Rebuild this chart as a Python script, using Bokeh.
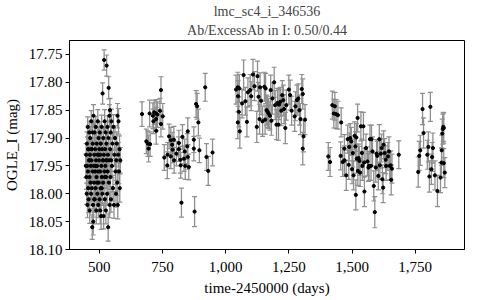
from bokeh.plotting import figure
from bokeh.models import (Range1d, Whisker, ColumnDataSource, FixedTicker,
                          NumeralTickFormatter, PrintfTickFormatter, Title, TeeHead)
from bokeh.embed import file_html
from bokeh.resources import INLINE

title_line1 = "lmc_sc4_i_346536"
title_line2 = "Ab/ExcessAb in I: 0.50/0.44"
x_label = "time-2450000 (days)"
y_label = "OGLE_I (mag)"
x_ticks = [500, 750, 1000, 1250, 1500, 1750]
y_ticks = [17.75, 17.80, 17.85, 17.90, 17.95, 18.00, 18.05, 18.10]

# [time, magnitude, error]
season1 = [
    [448,17.93,.020],[449,17.97,.022],[450,18.00,.019],[451,17.91,.021],[452,17.95,.020],
    [453,18.02,.023],[454,17.88,.018],[455,17.96,.022],[456,17.99,.020],[457,17.92,.019],
    [458,18.01,.024],[459,17.94,.021],[460,17.89,.020],[461,17.97,.022],[462,18.03,.023],
    [463,17.93,.019],[464,17.90,.021],[465,17.98,.020],[466,17.95,.022],[467,18.00,.021],
    [468,17.87,.019],[469,17.94,.020],[470,17.99,.023],[471,17.92,.021],[472,18.06,.022],
    [473,17.96,.020],[474,17.91,.019],[475,18.02,.022],[476,18.05,.024],[477,17.86,.020],
    [478,17.95,.021],[479,17.98,.022],[480,17.93,.020],[481,17.89,.019],[482,18.01,.023],
    [483,17.96,.021],[484,17.92,.020],[485,17.99,.022],[486,17.88,.019],[487,17.94,.021],
    [488,18.03,.024],[489,17.97,.020],[490,17.91,.021],[491,17.95,.022],[492,18.00,.020],
    [493,17.93,.019],[494,17.87,.021],[495,17.96,.022],[496,18.02,.023],[497,17.90,.020],
    [498,17.98,.021],[499,17.94,.020],[500,17.92,.022],[501,18.01,.021],[502,17.89,.019],
    [503,17.96,.022],[504,17.93,.020],[505,17.99,.023],[506,17.91,.021],[507,18.04,.024],
    [508,17.95,.020],[509,17.88,.021],[510,17.97,.022],[511,17.92,.020],[512,18.00,.021],
    [513,17.82,.019],[514,17.94,.022],[515,17.98,.020],[516,17.90,.021],[517,18.04,.023],
    [518,17.93,.020],[519,17.76,.018],[520,17.96,.022],[521,17.87,.021],[522,18.01,.020],
    [523,17.92,.022],[524,17.95,.021],[525,17.89,.020],[526,18.03,.024],[527,17.97,.021],
    [528,17.91,.020],[529,17.77,.019],[530,17.94,.022],[531,18.00,.021],[532,17.88,.020],
    [533,17.96,.022],[534,17.93,.021],[535,18.06,.025],[536,17.90,.020],[537,17.81,.020],
    [538,17.98,.022],[539,17.94,.021],[540,17.86,.020],[541,18.02,.023],[542,17.85,.021],
    [543,17.92,.020],[544,17.97,.022],[545,17.89,.021],[546,18.01,.023],[547,17.94,.020],
    [548,17.87,.022],[550,17.95,.021],[552,17.91,.020],[554,17.99,.023],[556,17.88,.022],
    [558,18.02,.024],[560,17.93,.021],[562,17.90,.022],[564,17.96,.023],[566,18.00,.024],
    [567,17.94,.022],[569,17.91,.021],[571,17.98,.023],[572,17.86,.022],[573,18.02,.025],
    [575,17.93,.022],[576,17.87,.023],[578,17.96,.022],[580,17.92,.024],[581,17.99,.025],
    [583,17.94,.023],
    [447,17.95,.021],[455.5,17.92,.022],[461.5,17.94,.020],[467.5,17.92,.021],[473.5,17.89,.022],
    [479.5,18.01,.023],[485.5,17.95,.021],[491.5,17.98,.020],[497.5,17.93,.021],[503.5,18.03,.024],
    [509.5,17.99,.022],[515.5,17.94,.021],[521.5,17.97,.020],[527.5,17.94,.021],
]

season2 = [
    [669,17.857,.022],[699,17.856,.024],[712,17.860,.023],[717,17.854,.022],[725,17.856,.025],
    [730,17.858,.023],[740,17.851,.022],[744,17.814,.024],[751,17.861,.023],[714,17.870,.022],
    [725,17.866,.021],[744,17.875,.023],[725,17.887,.024],[686,17.906,.022],[692,17.910,.023],
    [701,17.911,.022],[695,17.919,.024],[757,17.935,.023],[770,17.930,.022],[769,17.949,.024],
    [776,17.897,.022],[783,17.904,.023],[788,17.912,.022],[795,17.903,.024],[790,17.921,.023],
    [783,17.933,.022],[796,17.940,.023],[805,17.928,.022],[815,17.909,.023],[814,17.920,.022],
    [821,17.939,.024],[822,17.949,.023],[829,17.898,.022],[835,17.937,.023],[840,17.950,.024],
    [838,17.924,.022],[848,17.915,.023],[850,17.888,.024],[854,17.952,.023],[850,17.934,.022],
    [825,18.016,.026],[877,18.032,.027],[874,17.903,.023],[874,17.919,.022],[883,17.839,.024],
    [887,17.843,.023],[892,17.872,.024],[896,17.922,.022],[919,17.809,.025],[924,17.934,.024],
    [931,17.959,.026],[948,17.926,.024],
]

season3 = [
    [1041,17.813,.026],[1048,17.809,.027],[1054,17.811,.025],[1049,17.825,.028],[1052,17.853,.027],
    [1048,17.872,.029],[1056,17.888,.030],[1065,17.838,.026],[1071,17.787,.027],[1078,17.834,.025],
    [1084,17.871,.027],[1088,17.818,.026],[1097,17.814,.028],[1101,17.825,.026],[1108,17.786,.027],
    [1114,17.807,.026],[1123,17.880,.028],[1126,17.789,.027],[1130,17.826,.026],[1134,17.866,.027],
    [1136,17.809,.026],[1140,17.833,.025],[1146,17.870,.027],[1153,17.808,.026],[1158,17.811,.027],
    [1156,17.867,.026],[1162,17.850,.027],[1166,17.853,.028],[1170,17.856,.027],[1175,17.860,.026],
    [1178,17.814,.027],[1181,17.869,.026],[1185,17.829,.028],[1192,17.800,.027],[1196,17.841,.026],
    [1201,17.876,.027],[1205,17.837,.026],[1209,17.876,.028],[1211,17.840,.027],[1216,17.835,.026],
    [1220,17.851,.027],[1224,17.823,.026],[1228,17.832,.027],[1231,17.848,.026],[1236,17.882,.028],
    [1240,17.841,.027],[1250,17.813,.026],[1255,17.823,.027],[1261,17.851,.026],[1273,17.861,.027],
    [1276,17.843,.026],[1282,17.832,.027],[1287,17.829,.026],[1292,17.850,.027],[1296,17.866,.028],
    [1301,17.812,.026],[1305,17.821,.027],[1308,17.897,.028],[1305,17.919,.029],[1314,17.867,.027],
]

season4 = [
    [1406,17.933,.025],[1413,17.943,.026],[1422,17.841,.025],[1428,17.856,.026],[1432,17.843,.025],
    [1437,17.857,.026],[1444,17.859,.025],[1457,17.872,.026],[1455,17.932,.025],[1463,17.943,.026],
    [1470,17.919,.025],[1470,17.940,.026],[1477,17.967,.027],[1483,17.902,.025],[1487,17.948,.026],
    [1489,17.916,.025],[1493,17.900,.026],[1497,17.906,.025],[1500,17.956,.026],[1503,17.927,.025],
    [1506,17.967,.026],[1510,17.896,.025],[1513,17.915,.026],[1515,18.002,.027],[1517,17.899,.025],
    [1519,17.937,.026],[1522,17.864,.025],[1523,17.959,.026],[1526,17.936,.025],[1529,17.941,.026],
    [1532,17.962,.025],[1535,17.879,.026],[1539,17.927,.025],[1541,17.950,.026],[1545,17.879,.025],
    [1548,17.944,.026],[1549,17.996,.027],[1555,17.918,.025],[1561,17.942,.026],[1565,17.953,.025],
    [1567,17.950,.026],[1571,17.902,.025],[1575,17.950,.026],[1577,17.902,.025],[1581,17.924,.026],
    [1586,17.986,.027],[1590,18.033,.028],[1594,17.953,.026],[1597,17.928,.025],[1600,17.932,.026],
    [1604,17.968,.025],[1608,17.902,.026],[1610,17.949,.025],[1614,17.928,.026],[1617,17.918,.025],
    [1620,17.974,.026],[1623,17.989,.027],[1625,17.912,.025],[1629,17.927,.026],[1633,17.939,.025],
    [1635,17.950,.026],[1642,17.933,.025],[1646,17.924,.026],[1649,17.950,.025],[1653,17.949,.026],
    [1655,17.975,.027],[1658,17.955,.026],[1685,17.930,.025],
]

season5 = [
    [1762,17.961,.027],[1766,17.932,.026],[1770,17.922,.027],[1779,17.848,.028],[1783,17.891,.027],
    [1798,17.930,.026],[1802,17.916,.027],[1806,17.969,.028],[1810,17.844,.026],[1814,17.956,.027],
    [1817,17.934,.026],[1820,17.918,.027],[1828,17.967,.026],[1838,17.995,.028],[1850,17.971,.027],
    [1854,17.944,.026],[1855,17.922,.027],[1857,17.892,.026],[1859,17.884,.027],[1861,17.880,.026],
    [1863,17.882,.027],[1863,17.945,.026],[1867,17.962,.027],
]

rows = season1 + season2 + season3 + season4 + season5
t = [r[0] for r in rows]
mag = [r[1] for r in rows]
err = [r[2] for r in rows]
src = ColumnDataSource(dict(t=t, mag=mag,
                            lo=[a - b for a, b in zip(mag, err)],
                            hi=[a + b for a, b in zip(mag, err)]))

SERIF = "Liberation Serif"

p = figure(width=470, height=298, output_backend="svg", toolbar_location=None,
           x_range=Range1d(382, 1945), y_range=Range1d(18.10, 17.725),
           min_border_left=65, min_border_right=6, min_border_top=40, min_border_bottom=46)

p.add_layout(Title(text=title_line2, align="center", text_font=SERIF, text_font_size="14px",
                   text_font_style="normal", standoff=5, offset=0), "above")
p.add_layout(Title(text=title_line1, align="center", text_font=SERIF, text_font_size="14px",
                   text_font_style="normal", standoff=0, offset=0), "above")

gray = "#8f8f8f"
whisk = Whisker(source=src, base="t", upper="hi", lower="lo", dimension="height",
                line_color=gray, line_width=1.3,
                upper_head=TeeHead(size=5, line_color=gray, line_width=1.2),
                lower_head=TeeHead(size=5, line_color=gray, line_width=1.2))
p.add_layout(whisk)
p.scatter("t", "mag", source=src, size=3.2, color="black")

p.grid.visible = False
p.outline_line_color = "black"
p.outline_line_alpha = 1
p.outline_line_width = 1
p.background_fill_color = "white"
p.border_fill_color = "white"

p.xaxis.ticker = FixedTicker(ticks=x_ticks)
p.xaxis.formatter = NumeralTickFormatter(format="0,0")
p.yaxis.ticker = FixedTicker(ticks=y_ticks)
p.yaxis.formatter = PrintfTickFormatter(format="%.2f")
p.xaxis.axis_label = x_label
p.yaxis.axis_label = y_label

for ax in (p.xaxis, p.yaxis):
    ax.axis_line_color = "black"
    ax.major_tick_line_color = "black"
    ax.major_tick_out = 4
    ax.major_tick_in = 0
    ax.minor_tick_line_color = None
    ax.major_label_text_font = SERIF
    ax.major_label_text_font_size = "15px"
    ax.major_label_text_color = "black"
    ax.major_label_text_line_height = 1.0
    ax.axis_label_text_font = SERIF
    ax.axis_label_text_font_size = "15px"
    ax.axis_label_text_font_style = "normal"
    ax.axis_label_text_color = "black"
    ax.axis_label_text_line_height = 1.0
p.xaxis.major_label_standoff = 8
p.xaxis.axis_label_standoff = 5
p.yaxis.major_label_standoff = 3
p.yaxis.axis_label_standoff = 6

open("out.html", "w").write(file_html(p, INLINE))
